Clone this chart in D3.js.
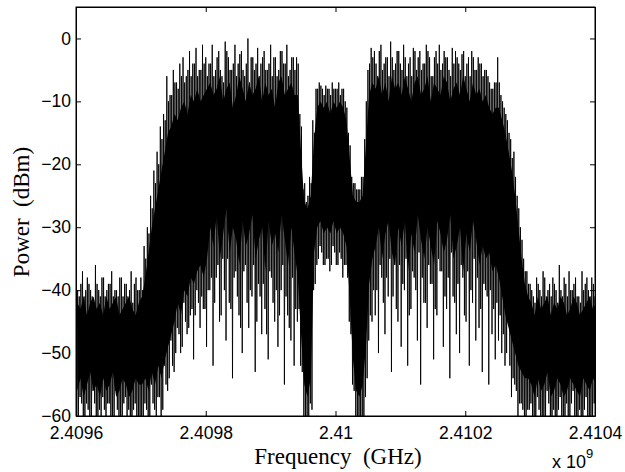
<!DOCTYPE html>
<html><head><meta charset="utf-8">
<script src="https://cdn.jsdelivr.net/npm/d3@7"></script>
<style>body{margin:0;background:#fff} svg{display:block}</style>
</head><body>
<svg id="chart" width="625" height="472"></svg>
<script>
// ---- data ----
const xTicks = [2.4096, 2.4098, 2.41, 2.4102, 2.4104];
const xTickLabels = ["2.4096", "2.4098", "2.41", "2.4102", "2.4104"];
const yTicks = [0, -10, -20, -30, -40, -50, -60];

// samples every 0.000005 (x 1e9 Hz)
const fineStart = 2.4096, fineStep = 0.000005;
// trace A: tall local maxima / deep local minima
const peak = [
  -38,-41,-37,-40,-39,-41,-36,-40,-38,-41,-39,-37,-40,-41,-38,-39,-41,-37,-39,-40,
  -38,-33,-30,-25,-21,-18,-14,-12,-6,-9,-5,-7,-4,-3,-6,-2,-4,-1.5,-5,-1,-3,
  -4,-1,-5,-2,-6,-0.5,-3,-5,-1,-4,-2,-6,0,-3,-5,-1.5,-4,-2,-5,-1,-3,-6,-2,-4,-1,-5,-3,
  -3,-12,-24,-26,-22,-13,-8,-7,-8,-7.5,-8,-7,-8,-7,-8,-10,-15,-22,-23,-24,-22,-16,-5,-1.5,
  -2,-6,-1,-4,-3,-0.5,-5,-2,-4,-1,-6,-3,-1.5,-5,-2,-4,-1,-3,-6,-2,-1,-4,-3,-5,-1.5,-2,-4,-2.5,-6,-3,-2,-5,-3,-4,-5,-6,-8,-7,
  -3,-9,-11,-13,-16,-18,-25,-30,-35,-37,
  -39,-41,-38,-40,-37,-41,-39,-38,-40,-36,-41,-39,-37,-40,-38,-41,-37,-39,-40,-38,-41
];
const trough = [
  -60,-57,-63,-58,-61,-56,-62,-59,-57,-64,-58,-61,-56,-60,-63,-57,-59,-62,-58,-61,
  -60,-58,-62,-55,-59,-57,-61,-52,-56,-48,-53,-46,-50,-42,-47,-44,-51,-40,-46,-43,-49,
  -40,-52,-38,-45,-35,-48,-42,-54,-37,-44,-50,-36,-46,-41,-53,-39,-47,-43,-51,-38,-45,-49,-40,-55,-44,-48,-52,
  -45,-52,-60,-62,-58,-40,-36,-33,-36,-35,-37,-33,-36,-34,-38,-36,-45,-55,-60,-62,-60,-57,-48,-45,
  -44,-50,-38,-47,-41,-53,-36,-45,-49,-40,-52,-43,-38,-48,-55,-42,-46,-39,-51,-44,-37,-49,-43,-54,-41,-47,-50,-38,-45,-52,-42,-48,-46,-53,-40,-55,-47,-51,
  -48,-50,-52,-45,-57,-55,-60,-58,-61,-59,
  -58,-62,-57,-60,-64,-56,-61,-59,-63,-57,-60,-58,-62,-56,-61,-59,-64,-57,-60,-62,-58
];
// trace B: moderate local maxima / minima
const peak2 = [
  -40,-39,-41,-38,-40,-42,-39,-41,-38,-40,-39,-41,-40,-38,-41,-39,-40,-42,-38,-40,
  -40,-35,-31,-27,-23,-20,-16,-13,-10,-9,-7,-8,-6,-7,-5,-6,-4,-6,-5,-4,-6,
  -4,-6,-3,-5,-7,-2,-5,-4,-6,-2.5,-5,-4,-7,-3,-4,-6,-3,-5,-4,-6,-3,-5,-2,-4,-6,-3,-5,
  -4,-14,-23,-25,-23,-15,-8,-7.5,-9,-8,-9,-8,-8,-9,-8,-11,-17,-23,-24,-24,-22,-10,-4,-3,
  -4,-2,-5,-3,-6,-3,-4,-2,-5,-3,-4,-6,-2,-3,-5,-4,-2,-6,-3,-4,-5,-2,-3,-6,-4,-3,-5,-2,-4,-6,-3,-5,-4,-6,-5,-7,-8,-7,
  -7,-10,-12,-15,-19,-22,-27,-32,-37,-39,
  -40,-42,-39,-41,-38,-40,-41,-39,-42,-40,-38,-41,-40,-39,-41,-42,-40,-38,-41,-39,-40
];
const trough2 = [
  -60,-58,-61,-59,-62,-58,-60,-61,-59,-58,-62,-60,-59,-61,-58,-60,-62,-59,-61,-60,
  -61,-59,-62,-58,-60,-57,-59,-55,-54,-52,-50,-47,-49,-45,-46,-43,-44,-42,-41,-43,-40,
  -38,-42,-36,-44,-40,-35,-43,-38,-41,-46,-37,-42,-40,-36,-45,-41,-39,-47,-37,-42,-40,-44,-36,-41,-46,-38,-43,
  -43,-53,-60,-62,-59,-39,-35,-34,-36,-35,-36,-34,-36,-35,-36,-38,-47,-56,-61,-62,-60,-54,-44,-40,
  -40,-36,-42,-38,-35,-41,-43,-36,-39,-35,-44,-37,-40,-34,-38,-42,-36,-39,-43,-35,-37,-41,-38,-34,-42,-39,-36,-44,-37,-40,-35,-38,-43,-39,-41,-40,-43,-42,
  -44,-47,-50,-52,-54,-56,-58,-59,-60,-59,
  -60,-62,-59,-61,-60,-58,-62,-60,-59,-61,-62,-60,-58,-61,-60,-62,-59,-60,-61,-58,-60
];
// top and bottom of the solid dense band
const coreTop = [
  -42,-43,-41,-44,-42,-41,-43,-42,-44,-41,-43,-42,-41,-44,-43,-42,-41,-43,-44,-42,
  -41,-38,-34,-30,-27,-24,-21,-18,-15,-14,-12,-13,-11,-10,-12,-9,-10,-8,-10,-9,-8,
  -7,-9,-8,-6,-10,-8,-7,-11,-9,-6,-8,-10,-7,-9,-8,-6,-10,-7,-9,-8,-11,-7,-6,-9,-8,-7,-9,
  -9,-18,-26,-27,-25,-16,-11,-10,-11,-10,-12,-10,-11,-10,-11,-13,-19,-25,-26,-26,-25,-17,-9,-7,
  -8,-6,-9,-7,-10,-6,-8,-7,-9,-6,-8,-10,-7,-6,-9,-8,-6,-10,-7,-8,-9,-6,-7,-10,-8,-7,-9,-6,-8,-10,-7,-9,-8,-10,-9,-11,-12,-11,
  -11,-13,-15,-18,-21,-25,-30,-35,-39,-41,
  -42,-44,-41,-43,-42,-41,-44,-42,-43,-41,-42,-44,-43,-41,-42,-44,-43,-42,-41,-43,-42
];
const coreBottom = [
  -56,-54,-57,-55,-53,-56,-55,-57,-54,-56,-55,-53,-57,-56,-54,-55,-57,-56,-54,-55,
  -55,-54,-56,-53,-55,-52,-54,-51,-49,-47,-45,-42,-44,-40,-41,-38,-39,-37,-36,-38,-35,
  -30,-33,-28,-35,-31,-27,-34,-30,-32,-36,-29,-33,-31,-28,-35,-32,-30,-37,-29,-33,-31,-34,-28,-32,-36,-30,-34,
  -38,-47,-55,-57,-54,-34,-30,-29,-31,-30,-31,-29,-31,-30,-31,-33,-41,-51,-56,-57,-55,-49,-39,-35,
  -33,-30,-35,-31,-29,-34,-36,-30,-33,-29,-37,-31,-34,-28,-32,-35,-30,-33,-36,-29,-31,-34,-32,-28,-35,-33,-30,-37,-31,-34,-29,-32,-36,-33,-35,-34,-37,-36,
  -38,-41,-44,-46,-48,-50,-52,-53,-54,-54,
  -55,-57,-54,-56,-55,-53,-57,-56,-54,-55,-57,-56,-54,-55,-56,-57,-54,-55,-56,-54,-55
];

// ---- drawing ----
const svg = d3.select("#chart");
const L = 76, T = 7, R = 595, B = 416;
const x = d3.scaleLinear().domain([2.4096, 2.4104]).range([L, R]);
const y = d3.scaleLinear().domain([-60, 5]).range([B, T]);
const fAt = k => fineStart + k * fineStep;

svg.append("defs").append("clipPath").attr("id", "clip")
  .append("rect").attr("x", L).attr("y", T).attr("width", R - L).attr("height", B - T);

const g = svg.append("g").attr("clip-path", "url(#clip)");

const core = coreTop.map((t, i) => ({f: fAt(i + 0.375), t, b: coreBottom[i]}));
g.append("path").datum(core)
  .attr("d", d3.area().x(d => x(d.f)).y0(d => y(d.b)).y1(d => y(d.t)))
  .attr("fill", "#000");

// line alternates high / low: A-peak, A-trough, B-peak, B-trough
const trace = peak.flatMap((p, i) => [
  [fAt(i), p],
  [fAt(i + 0.25), trough[i]],
  [fAt(i + 0.5), peak2[i]],
  [fAt(i + 0.75), trough2[i]]
]);
g.append("path").datum(trace)
  .attr("d", d3.line().x(d => x(d[0])).y(d => y(d[1])))
  .attr("fill", "none").attr("stroke", "#000").attr("stroke-width", 0.9);

const tickFont = "'Liberation Sans', Arial, Helvetica, sans-serif";

svg.append("g").attr("transform", `translate(0,${B})`)
  .call(d3.axisBottom(x).tickValues(xTicks).tickFormat((d, i) => xTickLabels[i])
    .tickSizeInner(-5).tickSizeOuter(0).tickPadding(11));
svg.append("g").attr("transform", `translate(${L},0)`)
  .call(d3.axisLeft(y).tickValues(yTicks).tickFormat(d => d < 0 ? "\u2212" + Math.abs(d) : String(d))
    .tickSizeInner(-5).tickSizeOuter(0).tickPadding(5));
svg.append("g").attr("transform", `translate(0,${T})`)
  .call(d3.axisTop(x).tickValues(xTicks).tickFormat("").tickSizeInner(-5).tickSizeOuter(0));
svg.append("g").attr("transform", `translate(${R},0)`)
  .call(d3.axisRight(y).tickValues(yTicks).tickFormat("").tickSizeInner(-5).tickSizeOuter(0));

svg.selectAll(".tick text").attr("font-family", tickFont).attr("font-size", 17.5).attr("fill", "#000");
svg.selectAll(".domain").attr("stroke", "#000");
svg.selectAll(".tick line").attr("stroke", "#000");

svg.append("rect").attr("x", L).attr("y", T).attr("width", R - L).attr("height", B - T)
  .attr("fill", "none").attr("stroke", "#000").attr("stroke-width", 1);

svg.append("text").attr("x", 338).attr("y", 464).attr("text-anchor", "middle")
  .attr("font-family", "'Liberation Serif', 'Times New Roman', serif").attr("font-size", 23)
  .style("white-space", "pre").text("Frequency  (GHz)");

svg.append("text").attr("transform", "translate(29,212) rotate(-90)").attr("text-anchor", "middle")
  .attr("font-family", "'Liberation Serif', 'Times New Roman', serif").attr("font-size", 23)
  .style("white-space", "pre").text("Power  (dBm)");

const ex = svg.append("text").attr("x", 552).attr("y", 468)
  .attr("font-family", tickFont).attr("font-size", 18);
ex.append("tspan").text("x 10");
ex.append("tspan").attr("dy", -10).attr("font-size", 13).text("9");
</script>
</body></html>
